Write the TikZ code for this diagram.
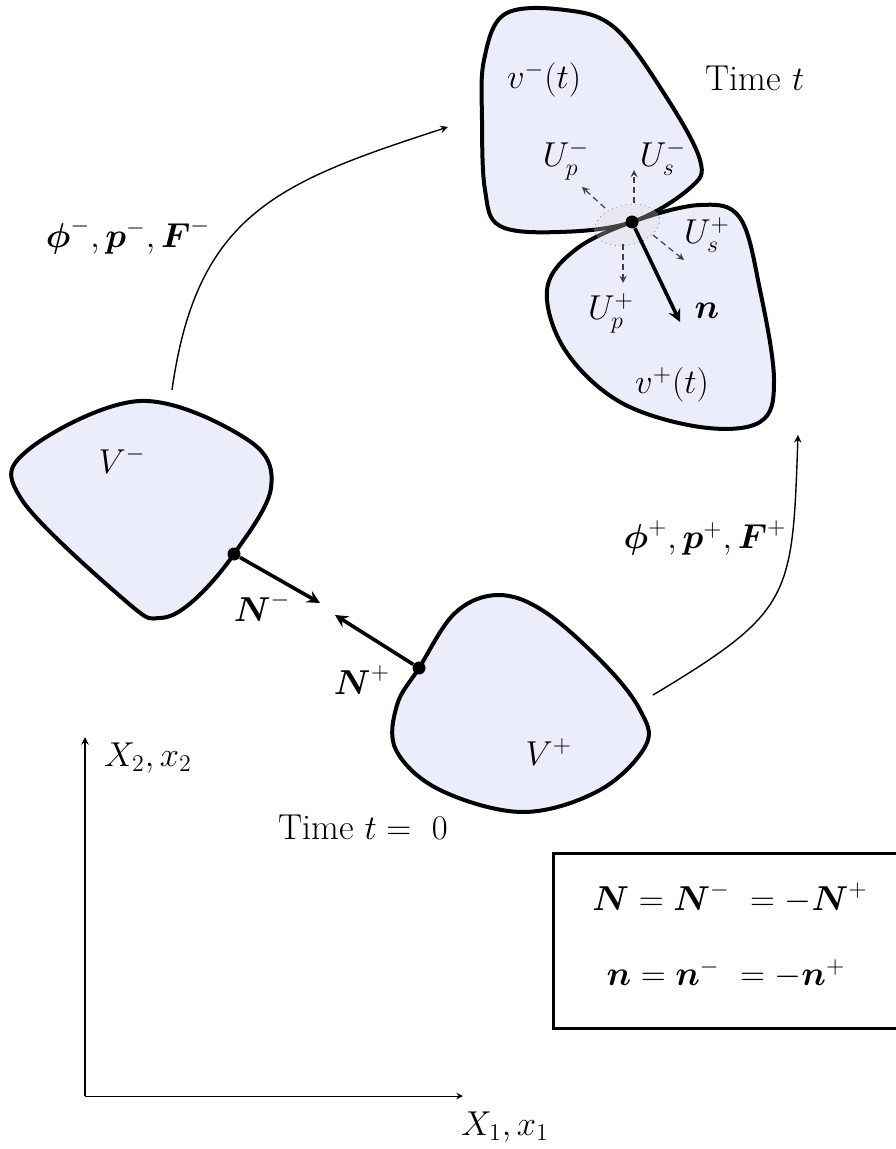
\documentclass[tikz,border=0pt]{standalone}
\usepackage{amsmath, amssymb}
\usepackage{xcolor}
\usepackage{tikz}
\usetikzlibrary{arrows, positioning, calc}
\definecolor{blobfill}{RGB}{235,237,250}

\begin{document}
\begin{tikzpicture}[
    x=0.5pt, y=-0.5pt,
    font=\fontsize{18}{22}\selectfont,
    blob/.style={draw, line width=2pt, fill=blobfill},
    arrow/.style={line width=1.8pt,->,>=stealth},
    flow/.style={line width=0.7pt,->,>=stealth},
    probe/.style={densely dashed, line width=0.6pt,->,>=stealth, black!75},
    dot/.style={circle, fill=black, inner sep=0pt, minimum size=6.5pt},
    lbl/.style={inner sep=1pt}
]
\useasboundingbox (0,0) rectangle (895,1149);

\draw[blob] plot[smooth cycle, tension=0.6] coordinates {(22,500) (28,450) (140,401) (248,440) (271,488)
  (234,554) (193,601) (160,618) (128,603)};
\draw[blob] plot[smooth cycle, tension=0.6] coordinates {(419,668) (455,613) (498,595) (545,612) (605,665)
  (640,710) (646,745) (600,790) (523,812) (440,790) (396,750) (397,705)};
\draw[blob] plot[smooth cycle, tension=0.6] coordinates {(484,60) (505,14) (565,10) (615,28) (665,95) (700,160)
  (690,188) (632,222) (560,232) (500,226) (485,190) (482,120)};
\draw[blob] plot[smooth cycle, tension=0.6] coordinates {(632,222) (700,205) (740,218) (760,290) (774,380)
  (760,422) (700,427) (620,402) (565,350) (547,290) (575,250)};
\draw[dotted, gray, fill=gray!25, fill opacity=0.3] (627,225) ellipse [x radius=16.5pt, y radius=10pt, rotate=12];

\node[dot] (dm) at (234,554) {};
\node[dot] (dp) at (419,668) {};
\node[dot] (dc) at (632,222) {};

\coordinate (nmtip) at (320,603);
\coordinate (nptip) at (335,615);
\coordinate (ntip) at (680,322);
\coordinate (upmfrom) at (605,208);
\coordinate (upmtip) at (582,187);
\coordinate (usmfrom) at (634,203);
\coordinate (usmtip) at (634,170);
\coordinate (uspfrom) at (653,235);
\coordinate (usptip) at (684,260);
\coordinate (uppfrom) at (623,244);
\coordinate (upptip) at (623,283);
\coordinate (vmtop) at (172,390);
\coordinate (vmttip) at (448,127);
\coordinate (vpright) at (653,695);
\coordinate (vpttip) at (798,435);
\coordinate (origin) at (85,1096);
\coordinate (xtip) at (463,1096);
\coordinate (ytip) at (85,737);

\node[lbl] (lvm) at (122,460) {$V^-$};
\node[lbl] (lvp) at (549,752) {$V^+$};
\node[lbl] (lvmt) at (544,80) {$v^-(t)$};
\node[lbl] (lvpt) at (672,385) {$v^+(t)$};
\node[lbl] (tnow) at (755,78) {Time $t$};
\node[lbl] (tzero) at (363,827) {Time $t =\ 0$};
\node[lbl] (lupm) at (566,160) {$U_p^-$};
\node[lbl] (lusm) at (663,158) {$U_s^-$};
\node[lbl] (lusp) at (707,235) {$U_s^+$};
\node[lbl] (lupp) at (611,313) {$U_p^+$};
\node[lbl] (ln) at (707,311) {$\boldsymbol{n}$};
\node[lbl] (lnm) at (262,607) {$\boldsymbol{N}^-$};
\node[lbl] (lnp) at (362,680) {$\boldsymbol{N}^+$};
\node[lbl] (lmapm) at (128,236) {$\boldsymbol{\phi}^-,\boldsymbol{p}^-,\boldsymbol{F}^-$};
\node[lbl] (lmapp) at (705,538) {$\boldsymbol{\phi}^+,\boldsymbol{p}^+,\boldsymbol{F}^+$};
\node[lbl] (lx2) at (148,758) {$X_2,x_2$};
\node[lbl] (lx1) at (505,1127) {$X_1,x_1$};
\node[lbl] (eqN) at (730,898) {$\boldsymbol{N}=\boldsymbol{N}^-\ =-\boldsymbol{N}^+$};
\node[lbl] (eqn) at (726,974) {$\boldsymbol{n}=\boldsymbol{n}^-\ =-\boldsymbol{n}^+$};

\draw[line width=1.5pt] (910,853) -- (553,853) -- (553,1028) -- (910,1028);

\draw[arrow] (dm) -- (nmtip);
\draw[arrow] (dp) -- (nptip);
\draw[arrow] (dc) -- (ntip);
\draw[probe] (upmfrom) -- (upmtip);
\draw[probe] (usmfrom) -- (usmtip);
\draw[probe] (uspfrom) -- (usptip);
\draw[probe] (uppfrom) -- (upptip);
\draw[flow] (vmtop) to[out=82, in=-162, looseness=1.2] (vmttip);
\draw[flow] (vpright) to[out=31, in=-92, looseness=1.4] (vpttip);
\draw[flow] (origin) -- (ytip);
\draw[flow, line width=0.5pt] (origin) -- (xtip);
\end{tikzpicture}
\end{document}
